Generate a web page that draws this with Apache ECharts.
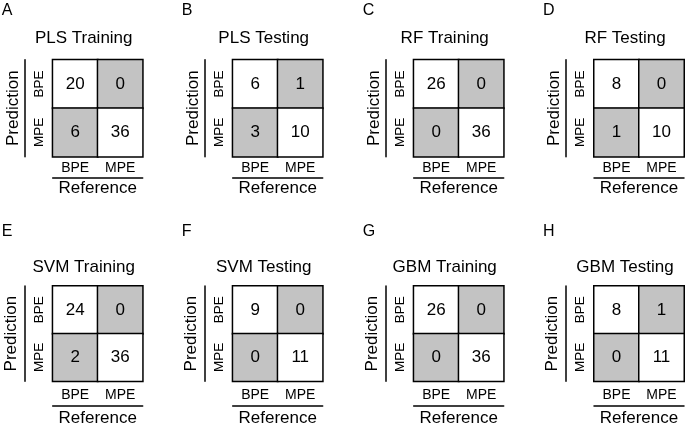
<!DOCTYPE html>
<html><head><meta charset="utf-8">
<script src="https://cdn.jsdelivr.net/npm/echarts@6/dist/echarts.min.js"></script>
<style>html,body{margin:0;padding:0;background:#fff}#c{width:685px;height:428px}</style>
</head><body><div id="c"></div>
<script>
const panelLetters = ['A','B','C','D','E','F','G','H'];
const panelTitles = ['PLS Training','PLS Testing','RF Training','RF Testing','SVM Training','SVM Testing','GBM Training','GBM Testing'];
const referenceCategories = ['BPE','MPE'];
const predictionCategories = ['BPE','MPE'];
// rows: prediction BPE, MPE ; columns: reference BPE, MPE
const plsTraining = [[20,0],[6,36]];
const plsTesting  = [[6,1],[3,10]];
const rfTraining  = [[26,0],[0,36]];
const rfTesting   = [[8,0],[1,10]];
const svmTraining = [[24,0],[2,36]];
const svmTesting  = [[9,0],[0,11]];
const gbmTraining = [[26,0],[0,36]];
const gbmTesting  = [[8,1],[0,11]];
const xAxisName = 'Reference';
const yAxisName = 'Prediction';

const matrices = [plsTraining, plsTesting, rfTraining, rfTesting, svmTraining, svmTesting, gbmTraining, gbmTesting];
const FONT = '"Liberation Sans", Arial, Helvetica, sans-serif';
const colLeft = [52.7, 232.7, 413.7, 594];
const rowTop = [59.7, 286];
const boxW = 90, boxH = 97;
const rowCfg = [
  {xLabelMargin: 4, refOffset: 21, refGap: 2.5, predGap: 2.7, titleY: 38.8, letterY: 11},
  {xLabelMargin: 7, refOffset: 24.5, refGap: 4.2, predGap: 4.5, titleY: 267, letterY: 232}
];
const GRAY = '#c3c3c3';

const grid = [], xAxis = [], yAxis = [], series = [], graphic = [];
matrices.forEach((m, i) => {
  const r = Math.floor(i / 4), c = i % 4;
  const cfg = rowCfg[r];
  const L = colLeft[c], T = rowTop[r];
  grid.push({left: L, top: T, width: boxW, height: boxH, containLabel: false});
  const txt = {color: '#000', fontFamily: FONT};
  xAxis.push({gridIndex: i, type: 'category', data: referenceCategories, position: 'bottom',
    axisLine: {show: false}, axisTick: {show: false}, splitLine: {show: false},
    axisLabel: Object.assign({margin: cfg.xLabelMargin, fontSize: 14}, txt)});
  xAxis.push({gridIndex: i, type: 'category', data: referenceCategories, position: 'bottom', offset: cfg.refOffset,
    axisLine: {show: true, onZero: false, lineStyle: {color: '#000', width: 1.5}}, axisTick: {show: false},
    axisLabel: {show: false}, splitLine: {show: false},
    name: xAxisName, nameLocation: 'middle', nameGap: cfg.refGap,
    nameTextStyle: Object.assign({fontSize: 17}, txt)});
  yAxis.push({gridIndex: i, type: 'category', data: predictionCategories, inverse: true, position: 'left',
    axisLine: {show: false}, axisTick: {show: false}, splitLine: {show: false},
    axisLabel: Object.assign({margin: 6.5, fontSize: 13.5, rotate: 90}, txt)});
  yAxis.push({gridIndex: i, type: 'category', data: predictionCategories, inverse: true, position: 'left', offset: 28.3,
    axisLine: {show: true, onZero: false, lineStyle: {color: '#000', width: 1.5}}, axisTick: {show: false},
    axisLabel: {show: false}, splitLine: {show: false},
    name: yAxisName, nameLocation: 'middle', nameRotate: 90, nameGap: cfg.predGap,
    nameTextStyle: Object.assign({fontSize: 17}, txt)});
  const data = [];
  for (let pr = 0; pr < 2; pr++) for (let rf = 0; rf < 2; rf++) {
    data.push({value: [rf, pr, m[pr][rf]], itemStyle: {color: pr === rf ? '#ffffff' : GRAY}});
  }
  series.push({type: 'heatmap', xAxisIndex: 2 * i, yAxisIndex: 2 * i, data,
    itemStyle: {borderColor: '#000', borderWidth: 1.5},
    label: {show: true, fontSize: 17, color: '#000', fontFamily: FONT, formatter: p => String(p.value[2])},
    emphasis: {disabled: true}, silent: true});
  graphic.push({type: 'text', x: L - 51, y: cfg.letterY,
    style: {text: panelLetters[i], fontSize: 16, fontFamily: FONT, fill: '#000', textAlign: 'left', textVerticalAlign: 'middle'}});
  graphic.push({type: 'text', x: L + boxW / 2 - 14, y: cfg.titleY,
    style: {text: panelTitles[i], fontSize: 17, fontFamily: FONT, fill: '#000', textAlign: 'center', textVerticalAlign: 'middle'}});
});

const chart = echarts.init(document.getElementById('c'), null, {renderer: 'canvas'});
chart.setOption({animation: false, backgroundColor: '#fff', grid, xAxis, yAxis, series, graphic});
</script></body></html>
